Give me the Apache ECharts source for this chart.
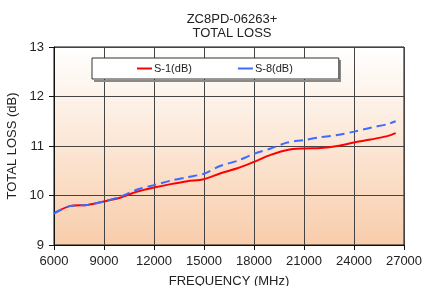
<!DOCTYPE html>
<html>
<head>
<meta charset="utf-8">
<script src="https://cdn.jsdelivr.net/npm/echarts@6/dist/echarts.min.js"></script>
<style>
  html, body { margin: 0; padding: 0; background: #fff; }
  #chart { width: 423px; height: 286px; }
</style>
</head>
<body>
<div id="chart"></div>
<script>
// frequency points (MHz)
var freq = [6000, 7000, 8000, 9000, 10000, 11000, 12000, 13000, 14000, 15000, 16000,
  17000, 18000, 19000, 20000, 21000, 22000, 23000, 24000, 25000, 26000, 26500]
// S-1 loss (dB)
var s1 = [9.64, 9.79, 9.81, 9.88, 9.96, 10.08, 10.16, 10.23, 10.29, 10.33, 10.45,
  10.55, 10.68, 10.82, 10.92, 10.95, 10.96, 11.0, 11.07, 11.13, 11.2, 11.26]
// S-8 loss (dB)
var s8 = [9.64, 9.79, 9.81, 9.88, 9.98, 10.12, 10.21, 10.3, 10.37, 10.44, 10.6,
  10.7, 10.84, 10.95, 11.07, 11.12, 11.18, 11.22, 11.29, 11.37, 11.44, 11.5]

var pairs = function (ys) {
  return freq.map(function (f, i) { return [f, ys[i]] })
}

var chart = echarts.init(document.getElementById('chart'))
var font = 'Liberation Sans, Arial, sans-serif'

chart.setOption({
  animation: false,
  title: {
    text: 'ZC8PD-06263+\nTOTAL LOSS',
    left: 227,
    textAlign: 'center',
    top: 7,
    textStyle: { fontFamily: font, fontSize: 13, fontWeight: 'normal', color: '#222', lineHeight: 14 }
  },
  legend: {
    left: 92,
    top: 58,
    padding: [5, 46, 5, 45],
    itemGap: 46,
    itemWidth: 15,
    itemHeight: 2,
    icon: 'rect',
    backgroundColor: '#fff',
    borderColor: '#333',
    borderWidth: 1,
    z: 10,
    textStyle: { fontFamily: font, fontSize: 11, color: '#222', padding: [0, 0, 0, -3] },
    data: ['S-1(dB)', 'S-8(dB)']
  },
  // shadow strips of the legend box
  graphic: [
    { type: 'rect', z: 9, shape: { x: 94, y: 80, width: 247, height: 2 }, style: { fill: '#8a8a8a' } },
    { type: 'rect', z: 9, shape: { x: 339, y: 60, width: 2, height: 22 }, style: { fill: '#8a8a8a' } }
  ],
  grid: {
    left: 54,
    right: 19,
    top: 47,
    bottom: 41,
    outerBoundsMode: 'none',
    show: true,
    borderColor: '#111',
    borderWidth: 1,
    backgroundColor: {
      type: 'linear', x: 0, y: 0, x2: 0, y2: 1,
      colorStops: [{ offset: 0, color: '#ffffff' }, { offset: 1, color: '#f8cdab' }]
    }
  },
  xAxis: {
    type: 'value',
    min: 6000,
    max: 27000,
    interval: 3000,
    name: 'FREQUENCY (MHz)',
    nameLocation: 'middle',
    nameGap: 30,
    nameTextStyle: { fontFamily: font, fontSize: 13, color: '#222' },
    axisLine: { lineStyle: { color: '#111', width: 1 } },
    axisTick: { show: true, length: 5, lineStyle: { color: '#111' } },
    axisLabel: { fontFamily: font, fontSize: 13, color: '#222', margin: 10, formatter: function (v) { return String(v) } },
    splitLine: { show: true, lineStyle: { color: '#444', width: 1 } }
  },
  yAxis: {
    type: 'value',
    min: 9,
    max: 13,
    interval: 1,
    name: 'TOTAL LOSS (dB)',
    nameLocation: 'middle',
    nameGap: 34,
    nameTextStyle: { fontFamily: font, fontSize: 13, color: '#222' },
    axisLine: { show: true, lineStyle: { color: '#111', width: 1 } },
    axisTick: { show: true, length: 5, lineStyle: { color: '#111' } },
    axisLabel: { fontFamily: font, fontSize: 13, color: '#222', margin: 10 },
    splitLine: { show: true, lineStyle: { color: '#444', width: 1 } }
  },
  series: [{
    name: 'S-1(dB)',
    type: 'line',
    smooth: 0.3,
    showSymbol: false,
    color: '#ff0000',
    lineStyle: { color: '#ff0000', width: 2 },
    data: pairs(s1)
  }, {
    name: 'S-8(dB)',
    type: 'line',
    smooth: 0.3,
    showSymbol: false,
    color: '#3d6bff',
    lineStyle: { color: '#3d6bff', width: 2, type: [9, 5] },
    data: pairs(s8)
  }]
})
</script>
</body>
</html>
